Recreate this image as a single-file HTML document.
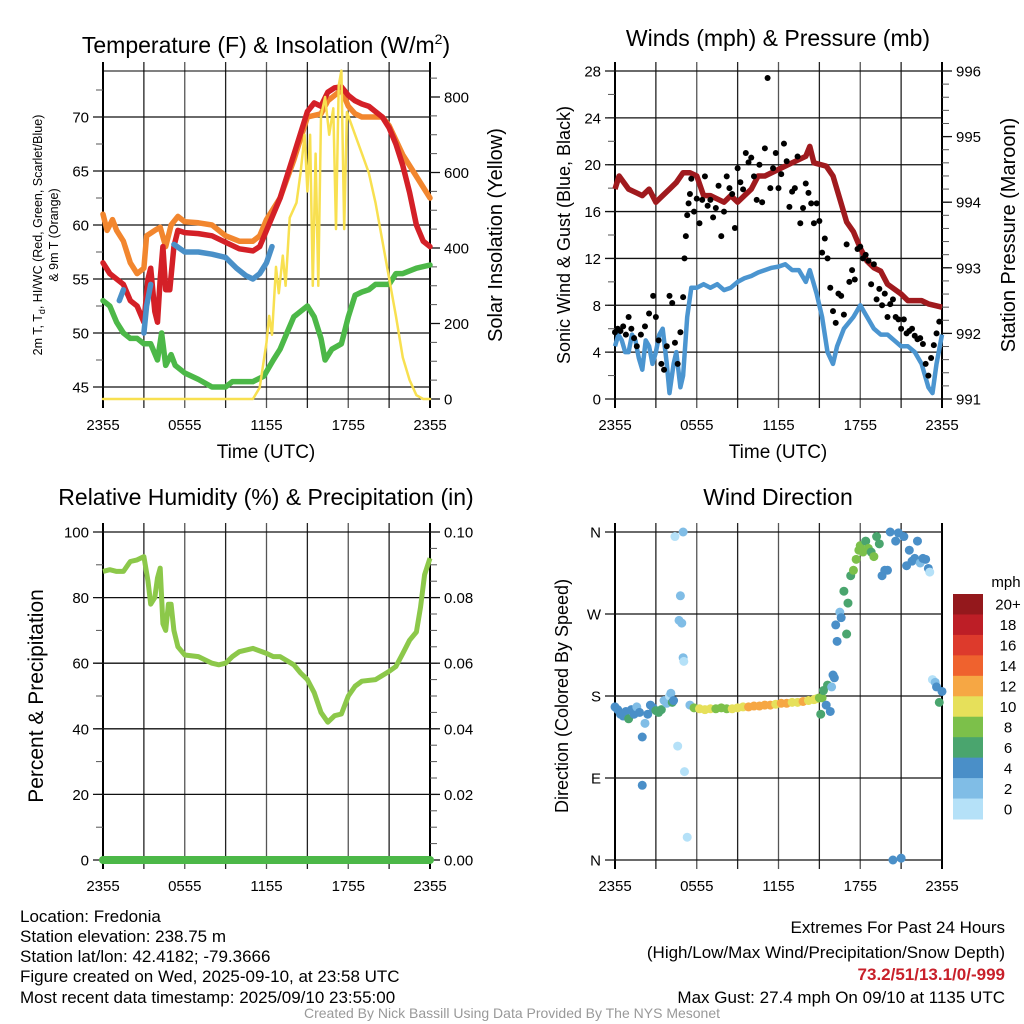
<!DOCTYPE html>
<html><head><meta charset="utf-8">
<style>
html,body{margin:0;padding:0;background:#fff;}
svg{display:block;font-family:"Liberation Sans",Arial,sans-serif;}
</style></head>
<body>
<svg id="fig" width="1024" height="1024" viewBox="0 0 1024 1024" xmlns="http://www.w3.org/2000/svg">
<rect x="0" y="0" width="1024" height="1024" fill="#fff"/>
<g id="layer"></g>
<text x="266" y="53" font-size="23" text-anchor="middle">Temperature (F) &amp; Insolation (W/m<tspan font-size="14" dy="-9">2</tspan><tspan dy="9">)</tspan></text>
<text x="778" y="46" font-size="23" text-anchor="middle">Winds (mph) &amp; Pressure (mb)</text>
<text x="266" y="505" font-size="23" text-anchor="middle">Relative Humidity (%) &amp; Precipitation (in)</text>
<text x="778" y="505" font-size="23" text-anchor="middle">Wind Direction</text>
<text x="266" y="458" font-size="19" text-anchor="middle">Time (UTC)</text>
<text x="778" y="458" font-size="19" text-anchor="middle">Time (UTC)</text>
<g transform="translate(42,235) rotate(-90)" font-size="12.5" text-anchor="middle">
<text x="0" y="0">2m T, T<tspan font-size="9" dy="3">d</tspan><tspan dy="-3">, HI/WC (Red, Green, Scarlet/Blue)</tspan></text>
<text x="0" y="16">&amp; 9m T (Orange)</text></g>
<text transform="translate(502,235) rotate(-90)" font-size="20" text-anchor="middle">Solar Insolation (Yellow)</text>
<text transform="translate(570,235) rotate(-90)" font-size="18" text-anchor="middle">Sonic Wind &amp; Gust (Blue, Black)</text>
<text transform="translate(1015,235) rotate(-90)" font-size="20" text-anchor="middle">Station Pressure (Maroon)</text>
<text transform="translate(43,696) rotate(-90)" font-size="21" text-anchor="middle">Percent &amp; Precipitation</text>
<text transform="translate(568,696) rotate(-90)" font-size="18" text-anchor="middle">Direction (Colored By Speed)</text>
<g font-size="17">
<text x="20" y="922">Location: Fredonia</text>
<text x="20" y="942">Station elevation: 238.75 m</text>
<text x="20" y="962">Station lat/lon: 42.4182; -79.3666</text>
<text x="20" y="982">Figure created on Wed, 2025-09-10, at 23:58 UTC</text>
<text x="20" y="1003">Most recent data timestamp: 2025/09/10 23:55:00</text>
</g>
<g font-size="17" text-anchor="end">
<text x="1005" y="933">Extremes For Past 24 Hours</text>
<text x="1005" y="958">(High/Low/Max Wind/Precipitation/Snow Depth)</text>
<text x="1005" y="980" fill="#c8202a" font-weight="bold">73.2/51/13.1/0/-999</text>
<text x="1005" y="1003">Max Gust: 27.4 mph On 09/10 at 1135 UTC</text>
</g>
<text x="512" y="1018" font-size="14" fill="#999" text-anchor="middle">Created By Nick Bassill Using Data Provided By The NYS Mesonet</text>
</svg>
<script>
// ---- data ----
const timeTicks = ["2355","0555","1155","1755","2355"];
const tempT = [0,0.5,1,1.5,2,2.5,3,3.3,3.5,3.8,4,4.2,4.4,4.6,4.9,5.2,5.5,6,7,8,9,10,11,11.5,12,12.5,13,13.5,14,14.5,15,15.5,16,16.5,17,17.5,18,18.5,19,19.5,20,20.5,21,21.5,22,22.5,23,23.5,24];
const tempV = [56.5,55.5,55,54.5,53,52.5,51,55,56,52,51,55,58,54,54,58,59.5,59.3,59.2,59,58.4,57.8,57.6,58,59.5,61,62.5,64.5,66.5,68.5,70.5,71.3,71,72.3,72.7,72.8,72,71.5,71.2,71,70.5,70,69,67.5,65.5,63,60,58.5,58];
const t9T = [0,0.3,0.7,1,1.5,2,2.5,3,3.2,3.8,4.2,4.6,5,5.5,6,7,8,9,10,11,11.5,12,13,14,15,16,16.5,17,17.5,18,18.5,19,20,20.5,21,22,23,24];
const t9V = [61,59.5,60.5,59.5,58.5,56.5,55.5,56,59,59.5,59.8,58,60,60.8,60.3,60.2,60,59,58.5,58.5,59,60.5,62.5,66,70,70.3,71.5,72,72.5,71,70.3,70,70,70,69.2,66.5,64.5,62.5];
const hiT = [1.2,1.5,1.6,1.8,1.9,3.0,3.2,3.5,3.6,5.2,6,7,8,9,9.8,10.5,11,11.5,12,12.4];
const hiV = [53,54,null,52,null,50,52.5,54.5,null,58.2,57.5,57.5,57.3,57,56,55.3,55,55.5,56.5,58];
const tdT = [0,0.5,1,1.5,2,2.5,3,3.5,4,4.3,4.6,5,5.3,6,7,8,9,9.5,10,11,11.8,12.5,13,13.5,14,14.5,15,15.5,16,16.3,16.8,17.5,18,18.5,19,19.5,20,21,21.5,22,23,24];
const tdV = [53,52.5,51,50,49.5,49.5,49,49,47.5,50,47,48,47,46.3,45.7,45,45,45.5,45.5,45.5,46,47.5,48.5,50,51.5,52,52.5,51.5,49.5,47.5,48.5,49,51.5,53.5,53.8,54,54.5,54.5,55.5,55.5,56,56.3];
const solT = [0,11,11.5,12,12.2,12.4,12.7,12.9,13.2,13.4,13.7,14.2,14.5,14.8,15,15.2,15.4,15.6,15.8,16,16.3,16.6,16.9,17.1,17.3,17.5,17.7,17.9,18.5,19,19.5,20,20.5,21,21.5,22,22.5,23,23.5,24];
const solV = [0,0,30,150,220,170,350,280,380,300,480,520,600,700,550,700,300,650,300,750,800,700,770,450,830,870,450,760,700,650,600,520,420,320,220,110,50,10,0,0];
const presT = [0,0.3,1,2,2.5,3,3.5,4,4.5,5,5.5,6,6.5,7,8,8.5,9,9.5,10,10.5,11,12,13,14,14.3,14.6,15.5,16,16.5,17,17.5,18,18.5,19,19.5,20,21,21.5,22,22.5,23,24];
const presV = [994.2,994.4,994.2,994.1,994.2,994.0,994.1,994.2,994.3,994.45,994.45,994.4,994.1,994.1,994.0,994.1,994.0,994.1,994.2,994.4,994.4,994.5,994.6,994.7,994.85,994.6,994.55,994.4,994.05,993.7,993.55,993.3,993.1,993,992.95,992.75,992.6,992.5,992.5,992.5,992.45,992.4];
const windT = [0,0.25,0.5,0.75,1,1.25,1.5,1.75,2,2.25,2.5,2.75,3,3.25,3.5,3.8,4,4.3,4.5,4.8,5,5.3,5.6,6,6.5,7,7.5,8,8.5,9,9.5,10,10.5,11,11.5,12,12.5,13,13.5,14,14.3,14.8,15.2,15.6,16,16.3,16.8,17.5,18,18.5,19,19.5,20,20.5,21,21.5,22,22.5,23,23.3,23.6,24];
const windV = [4.5,5.5,5,4,4,5.5,5,3.5,2.5,5,4.5,3,4,5.5,6,3,0.5,3,4,1,2,7,9.5,9.5,9.8,9.5,9.8,9.3,9.5,10,10.3,10.5,10.8,11,11.2,11.3,11.5,11,11,10,11,9,7,4,3,4.5,6,7,8,7,6,5.5,5.5,5,4.5,4.5,4,3,1,0.5,3,5.5];
const gustT = [0,0.2,0.4,0.6,0.8,1,1.2,1.4,1.6,1.9,2.2,2.5,2.8,3,3.2,3.4,3.6,3.8,4,4.2,4.4,4.6,4.8,5,5.1,5.2,5.3,5.4,5.5,5.6,5.8,6,6.2,6.4,6.6,6.8,7,7.2,7.4,7.6,7.8,8,8.2,8.4,8.6,8.8,9,9.2,9.4,9.6,9.8,10,10.2,10.4,10.6,10.8,11,11.2,11.4,11.6,11.8,12,12.2,12.4,12.6,12.8,13,13.2,13.4,13.6,13.8,14,14.2,14.4,14.6,14.8,15,15.2,15.4,15.6,15.8,16,16.2,16.4,16.6,16.8,17,17.2,17.4,17.6,17.8,18,18.2,18.4,18.6,18.8,19,19.2,19.4,19.6,19.8,20,20.2,20.4,20.6,20.8,21,21.2,21.4,21.6,21.8,22,22.2,22.4,22.6,22.8,23,23.2,23.4,23.6,23.8,24];
const gustV = [5.7,6,5.8,6.2,5.5,7,6,5.2,4.5,5.5,6.2,7.3,8.8,7,5,3,2.5,4.5,8.8,8.2,4.8,3,5.7,8.7,12,13.9,15.7,16.7,17.5,18.8,16,17.1,15,17,19,16.5,17,15.5,16.3,18.2,13.9,16,19,18,17.5,14.6,19.7,18.5,17.9,21,20.2,20.6,19,17,20,16.8,21.4,27.4,18,19.7,21,18,19.2,21.8,20.3,16.4,17.7,18,20.7,15,16.3,18.4,17.6,16.7,15,16.7,15.2,12.5,13.7,12,9.5,7.5,6.5,9,8.8,7.2,13.2,10,11,10.2,12.8,13,12,12.3,11.8,9.8,11.5,8.5,9.4,8,9,7,8.1,8.5,7,6.8,6,6.8,5.6,5.8,6,5.4,5.1,5.2,4.7,3,2,3.5,4.6,5.6,6.6];
const dirT = [0,0.2,0.4,0.6,0.8,1,1.2,1.4,1.6,1.8,2,2,2.2,2.4,2.6,2.8,3,3.2,3.4,3.6,3.8,4,4.1,4.2,4.3,4.4,4.6,4.7,4.8,4.9,5,5,5.05,5.1,5.3,5.5,5.8,6.2,6.6,7,7.4,7.8,8.2,8.6,9,9.4,9.8,10.2,10.6,11,11.4,11.8,12.2,12.6,13,13.4,13.8,14.2,14.6,14.8,15,15.1,15.2,15.3,15.5,15.6,15.8,15.9,16,16.1,16.2,16.3,16.5,16.6,16.8,17,17.1,17.3,17.5,17.7,17.9,18,18.2,18.4,18.6,18.8,19,19.2,19.4,19.6,19.8,20,20.2,20.4,20.6,20.8,21,21.2,21.4,21.6,21.8,22,22.2,22.4,22.6,22.8,23,23.1,23.3,23.5,23.6,23.8,24];
const dirV = [168,165,160,158,163,155,165,160,168,162,135,82,150,160,170,167,164,162,165,175,172,180,183,173,175,355,125,263,290,260,222,360,218,97,25,170,167,166,165,166,166,167,166,166,167,168,168,169,169,170,170,171,172,172,173,173,174,175,176,177,178,160,178,186,170,192,163,190,203,200,258,240,272,266,295,248,282,312,318,330,340,345,338,350,342,338,333,355,347,312,318,318,360,0,350,359,2,355,323,340,328,331,350,326,331,330,320,316,198,195,190,173,185,176];
const dirS = [4,4,4,4,4,6,4,4,3,4,4,4,2,4,4,5,7,7,6,2,3,1,2,7,4,1,1,2,2,3,2,3,1,1,1,3,9,10,10,10,9,9,8,10,10,10,12,12,12,12,12,11,12,12,10,11,12,10,11,11,8,6,8,6,5,6,4,2,4,4,4,4,3,4,6,7,6,7,8,8,8,9,8,7,8,7,8,6,7,4,4,4,5,4,4,4,4,4,4,4,4,4,4,3,4,4,4,1,1,2,4,7,4];
const precipT = [0,24];
const precipV = [0,0];
const rhT = [0,0.5,1,1.5,2,2.5,3,3.3,3.5,3.8,4,4.2,4.4,4.6,4.8,5,5.2,5.5,6,7,8,8.5,9,9.5,10,11,12,12.5,13,14,14.5,15,15.5,16,16.5,17,17.5,18,18.5,19,20,21,21.5,22,22.5,23,23.3,23.6,24];
const rhV = [88,88.5,88,88,91,91.5,92.5,85,78,80,86,89,72,70,78,78,70,65,62.5,62,60,59.5,60,62,63.5,64.5,63,62,62,59.5,57,55,51,45,42,44,44.5,50,53,54.5,55,57.5,59,63,67,69.5,77,87,92];
const cbLabels = ["20+","18","16","14","12","10","8","6","4","2","0"];
const cbColors = ["#94181c","#bd1e26","#dd3a2c","#ef622e","#f6a744","#e6e05a","#7cc04a","#4aa56e","#4a8fc8","#80bde6","#b5e1f8"];

// ---- drawing ----
const NS="http://www.w3.org/2000/svg";
const layer=document.getElementById('layer');
function mk(tag,attrs,parent){const e=document.createElementNS(NS,tag);for(const k in attrs)e.setAttribute(k,attrs[k]);(parent||layer).appendChild(e);return e;}
function xScale(x0,x1){return h=>x0+h/24*(x1-x0);}
function lin(v0,v1,p0,p1){return v=>p0+(v-v0)/(v1-v0)*(p1-p0);}
function pathFrom(ts,vs,xs,ys){let d="",pen=false;const n=Math.min(ts.length,vs.length);for(let i=0;i<n;i++){if(vs[i]===null||!Number.isFinite(vs[i])){pen=false;continue;}d+=(pen?"L":"M")+xs(ts[i]).toFixed(1)+","+ys(vs[i]).toFixed(1);pen=true;}return d;}
function speedColor(s){let idx=Math.min(10,Math.floor(s/2));return cbColors[10-idx];}

function frame(x0,x1,y0,y1,name){
  const g=mk('g',{});
  
  
  const xs=xScale(x0,x1);
  for(let k=0;k<=8;k++){const x=xs(k*3);mk('line',{x1:x,x2:x,y1:y0-9,y2:y1+9,stroke:k%2?'#222':'#555','stroke-width':1.3},g);}
  mk('rect',{x:x0,y:y0,width:x1-x0,height:y1-y0,fill:'none',stroke:'#000','stroke-width':1},g);
  mk('line',{x1:x0,x2:x0,y1:y0-9,y2:y1+9,stroke:'#000','stroke-width':2},g);
  mk('line',{x1:x1,x2:x1,y1:y0-9,y2:y1+9,stroke:'#000','stroke-width':2},g);
  for(let k=0;k<timeTicks.length;k++){const t=mk('text',{x:xs(k*6),y:y1+31,'font-size':15,'text-anchor':'middle'},g);t.textContent=timeTicks[k];}
  return g;
}
function yAxis(g,vals,labels,ys,x0,x1,side,grid,minor){
  for(const m of minor){const y=ys(m);if(side==='left')mk('line',{x1:x0-7,x2:x0,y1:y,y2:y,stroke:'#555','stroke-width':1},g);else mk('line',{x1:x1,x2:x1+7,y1:y,y2:y,stroke:'#555','stroke-width':1},g);}
  for(let i=0;i<vals.length;i++){const y=ys(vals[i]);
    if(side==='left'){mk('line',{x1:x0-10,x2:grid?x1:x0,y1:y,y2:y,stroke:'#111','stroke-width':1.3},g);
      const t=mk('text',{x:x0-14,y:y+5.5,'font-size':15,'text-anchor':'end'},g);t.textContent=labels[i];}
    else{mk('line',{x1:grid?x0:x1,x2:x1+10,y1:y,y2:y,stroke:'#111','stroke-width':1.3},g);
      const t=mk('text',{x:x1+14,y:y+5.5,'font-size':15,'text-anchor':'start'},g);t.textContent=labels[i];}}
}
function range(a,b,s){const r=[];for(let v=a;v<=b+1e-9;v+=s)r.push(+v.toFixed(4));return r;}

// Panel 1 temperature
{
 const x0=103,x1=430,y0=71,y1=399;const xs=xScale(x0,x1);
 const ys=lin(45,70,387,117);const ysr=lin(0,800,399,97);
 const g=frame(x0,x1,y0,y1,'temp');
 yAxis(g,[45,50,55,60,65,70],["45","50","55","60","65","70"],ys,x0,x1,'left',true,range(45,72.5,2.5));
 yAxis(g,[0,200,400,600,800],["0","200","400","600","800"],ysr,x0,x1,'right',false,range(0,850,50));
 const series=[[tdT,tdV,'#4cb848',5.5,'dewpoint-line',ys],[t9T,t9V,'#f2862e',5.5,'temp-9m-line',ys],[tempT,tempV,'#d42027',5.5,'temp-2m-line',ys],[hiT,hiV,'#4a90c8',5.5,'heat-index-line',ys],[solT,solV,'#f8e050',2.5,'solar-line',ysr]];
 for(const s of series){const p=mk('path',{d:pathFrom(s[0],s[1],xs,s[5]),fill:'none',stroke:s[2],'stroke-width':s[3],'stroke-linejoin':'round','stroke-linecap':'round'});
  
  }
}
// Panel 2 wind
{
 const x0=615,x1=942,y0=71,y1=399;const xs=xScale(x0,x1);
 const ys=lin(0,28,399,71);const ysr=lin(991,996,399,71);
 const g=frame(x0,x1,y0,y1,'wind');
 yAxis(g,range(0,28,4),range(0,28,4).map(String),ys,x0,x1,'left',true,range(0,28,2));
 yAxis(g,range(991,996,1),range(991,996,1).map(String),ysr,x0,x1,'right',false,range(991,996,0.2));
 const pw=mk('path',{d:pathFrom(windT,windV,xs,ys),fill:'none',stroke:'#4b95d0','stroke-width':4.5,'stroke-linejoin':'round'});
 
 
 const pp=mk('path',{d:pathFrom(presT,presV,xs,ysr),fill:'none',stroke:'#a01a1e','stroke-width':5.5,'stroke-linejoin':'round'});
 
 
 const ng=Math.min(gustT.length,gustV.length);
 for(let i=0;i<ng;i++){if(!Number.isFinite(gustV[i]))continue;const c=mk('circle',{cx:xs(gustT[i]),cy:ys(gustV[i]),r:3,fill:'#000'});
  
  }
}
// Panel 3 RH
{
 const x0=103,x1=430,y0=532,y1=860;const xs=xScale(x0,x1);
 const ys=lin(0,100,860,532);const ysr=lin(0,0.1,860,532);
 const g=frame(x0,x1,y0,y1,'rh');
 yAxis(g,range(0,100,20),range(0,100,20).map(String),ys,x0,x1,'left',true,range(0,100,10));
 yAxis(g,range(0,0.1,0.02),["0.00","0.02","0.04","0.06","0.08","0.10"],ysr,x0,x1,'right',false,range(0,0.1,0.005));
 const pr=mk('path',{d:pathFrom(rhT,rhV,xs,ys),fill:'none',stroke:'#8cc84a','stroke-width':5,'stroke-linejoin':'round'});
 
 
 const pc=mk('path',{d:pathFrom(precipT,precipV,xs,ysr),fill:'none',stroke:'#4cb848','stroke-width':8,'stroke-linecap':'round'});
 
 
}
// Panel 4 direction
{
 const x0=615,x1=942,y0=532,y1=860;const xs=xScale(x0,x1);
 const ys=lin(0,360,860,532);
 const g=frame(x0,x1,y0,y1,'dir');
 yAxis(g,[0,90,180,270,360],["N","E","S","W","N"],ys,x0,x1,'left',true,[]);
 const nd=Math.min(dirT.length,dirV.length,dirS.length);
 for(let i=0;i<nd;i++){if(!Number.isFinite(dirV[i]))continue;const c=mk('circle',{cx:xs(dirT[i]),cy:ys(dirV[i]),r:4.5,fill:speedColor(dirS[i])});
  
  }
 const cb=mk('g',{});
 
 
 const cy0=594,ch=225/cbColors.length;
 const ut=mk('text',{x:1006,y:587,'font-size':15,'text-anchor':'middle'},cb);ut.textContent='mph';
 for(let i=0;i<cbColors.length;i++){mk('rect',{x:953,y:cy0+i*ch,width:30,height:ch+0.5,fill:cbColors[i]},cb);
  const t=mk('text',{x:1008,y:cy0+i*ch+ch/2+5.5,'font-size':15,'text-anchor':'middle'},cb);t.textContent=cbLabels[i];}
}
</script>
</body></html>
